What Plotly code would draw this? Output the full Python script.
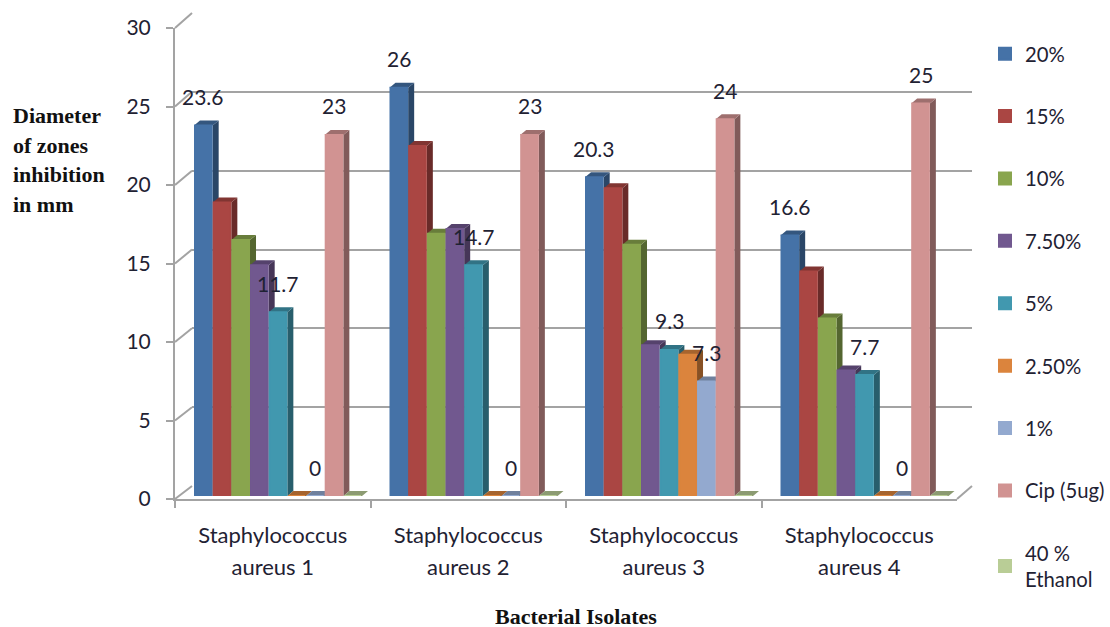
import plotly.graph_objects as go

# Isolates along the category axis
categories = ["Staphylococcus aureus 1", "Staphylococcus aureus 2",
              "Staphylococcus aureus 3", "Staphylococcus aureus 4"]
y_ticks = [0, 5, 10, 15, 20, 25, 30]

# Zone diameters (mm) per concentration, one value per isolate
series_names = ["20%", "15%", "10%", "7.50%", "5%", "2.50%", "1%", "Cip (5ug)", "40 %<br>Ethanol"]
pct_20 = [23.6, 26, 20.3, 16.6]
pct_15 = [18.7, 22.3, 19.6, 14.3]
pct_10 = [16.3, 16.7, 16, 11.3]
pct_7_5 = [14.7, 17, 9.6, 8]
pct_5 = [11.7, 14.7, 9.3, 7.7]
pct_2_5 = [0, 0, 9, 0]
pct_1 = [0, 0, 7.3, 0]
cip = [23, 23, 24, 25]
ethanol = [0, 0, 0, 0]
series_values = [pct_20, pct_15, pct_10, pct_7_5, pct_5, pct_2_5, pct_1, cip, ethanol]
colors = ["#4572A7", "#AA4643", "#89A54E", "#71588F", "#4198AF",
          "#DB843D", "#93A9CF", "#D19392", "#B9CD96"]

# Which bars carry a value label: (series index, isolate index)
labelled = [(0, 0), (4, 0), (6, 0), (7, 0),
            (0, 1), (4, 1), (6, 1), (7, 1),
            (0, 2), (4, 2), (6, 2), (7, 2),
            (0, 3), (4, 3), (6, 3), (7, 3)]

W, H = 1110, 627
GREY = "#a3a3a3"
TEXT = "#1f2233"
FONT = "Lato"
SERIF = "Liberation Serif"

# Pixel frame of the front plane, the back wall and the bar plane
FRONT_X = (175, 957)
FRONT_Y = (28, 499)
BACK_X = (192, 972)
BACK_Y = (13, 486)
BAR_Y = (25, 496)


def xdom(px):
    return [px[0] / W, px[1] / W]


def ydom(px):
    return [1 - px[1] / H, 1 - px[0] / H]


def shade(hex_color, k):
    r, g, b = (int(hex_color[i:i + 2], 16) for i in (1, 3, 5))
    return f"rgb({int(r * k)},{int(g * k)},{int(b * k)})"


def sized(text, px):
    # Outer font size sets the line spacing, inner span sets the glyph size
    return "<br>".join(f'<span style="font-size:{px}px">{p}</span>' for p in text.split("<br>"))


PX = 1 / 195.5
bar_w = 18.67 * PX
stroke = 2
bar_start = -0.5 + 19 * PX
depth_x = 6 * PX
depth_y = 5 / 15.7

fig = go.Figure()
shapes = []

# Empty traces keep the back wall and the value axis subplots on the page
fig.add_trace(go.Scatter(x=[0], y=[0], xaxis="x", yaxis="y", mode="none",
                         showlegend=False, hoverinfo="skip"))
fig.add_trace(go.Scatter(x=categories, y=[0] * len(categories), xaxis="x2", yaxis="y3", mode="none",
                         showlegend=False, hoverinfo="skip"))

# Wall diagonals joining the front axis to the back wall, plus the floor
for t in y_ticks:
    f = t / 30
    y_front = FRONT_Y[1] - f * (FRONT_Y[1] - FRONT_Y[0])
    y_back = BACK_Y[1] - f * (BACK_Y[1] - BACK_Y[0])
    shapes.append(dict(type="line", layer="below", xref="paper", yref="paper",
                       x0=FRONT_X[0] / W, y0=1 - y_front / H,
                       x1=BACK_X[0] / W, y1=1 - y_back / H,
                       line=dict(color=GREY, width=2)))
shapes.append(dict(type="line", layer="below", xref="paper", yref="paper",
                   x0=FRONT_X[1] / W, y0=1 - FRONT_Y[1] / H,
                   x1=BACK_X[1] / W, y1=1 - BACK_Y[1] / H,
                   line=dict(color=GREY, width=2)))

# Bars: the front face is a real bar, side and top faces sit behind it
for s, (name, vals, col) in enumerate(zip(series_names, series_values, colors)):
    left = bar_start + s * bar_w
    for g, v in enumerate(vals):
        l, r = g + left, g + left + bar_w
        shapes.append(dict(type="path", layer="between", xref="x2", yref="y2", line=dict(width=0),
                           fillcolor=shade(col, 0.62),
                           path=f"M{r},0 L{r + depth_x},{depth_y} L{r + depth_x},{v + depth_y} L{r},{v} Z"))
        shapes.append(dict(type="path", layer="between", xref="x2", yref="y2", line=dict(width=0),
                           fillcolor=shade(col, 0.76),
                           path=f"M{l},{v} L{l + depth_x},{v + depth_y} L{r + depth_x},{v + depth_y} L{r},{v} Z"))
    fig.add_trace(go.Bar(x=categories, y=vals, name=name, xaxis="x2", yaxis="y2",
                         width=bar_w - stroke * PX, offset=left + stroke / 2 * PX, legendgroup=name,
                         marker=dict(color=col, line=dict(width=stroke, color=col)), hoverinfo="skip"))

# Value labels float above the labelled bars
annotations = []
for s, g in labelled:
    v = series_values[s][g]
    annotations.append(dict(xref="x2", yref="y2", x=g + bar_start + (s + 0.5) * bar_w, y=v,
                            text=f"{v}", showarrow=False, yshift=29, yanchor="middle",
                            font=dict(family=FONT, size=21, color=TEXT)))

# Axis titles
for line, y in zip(["Diameter", "of zones", "inhibition", "in mm"], [115, 145, 175, 205]):
    annotations.append(dict(xref="paper", yref="paper", x=11 / W, y=1 - y / H, text=f"<b>{line}</b>",
                            showarrow=False, xanchor="left", yanchor="middle",
                            font=dict(family=SERIF, size=22, color="#111111")))
annotations.append(dict(xref="paper", yref="paper", x=576 / W, y=1 - 616 / H, height=22,
                        text="<b>Bacterial Isolates</b>", showarrow=False, yanchor="middle",
                        font=dict(family=SERIF, size=22, color="#111111")))

tick_labels = [sized(c.replace("coccus ", "coccus<br>"), 22) for c in categories]

fig.update_layout(
    template="none",
    width=W, height=H, autosize=False, margin=dict(l=0, r=0, t=0, b=0),
    paper_bgcolor="white", plot_bgcolor="rgba(0,0,0,0)", barmode="overlay",
    font=dict(family=FONT, color=TEXT),
    shapes=shapes, annotations=annotations,
    legend=dict(x=985 / W, y=1 - 34 / H, xanchor="left", yanchor="top",
                font=dict(family=FONT, size=20.3, color=TEXT),
                tracegroupgap=33, traceorder="grouped", bgcolor="rgba(0,0,0,0)"),
    # back wall with its gridlines
    xaxis=dict(domain=xdom(BACK_X), range=[0, 1], visible=False, anchor="y", automargin=False),
    yaxis=dict(domain=ydom(BACK_Y), range=[0, 30], anchor="x", showgrid=True, gridcolor=GREY,
               gridwidth=2, tickvals=y_ticks, showticklabels=False, ticks="", zeroline=False, showline=False,
               automargin=False),
    # category axis along the front of the floor
    xaxis2=dict(domain=xdom(FRONT_X), anchor="y3", type="category", categoryorder="array",
                categoryarray=categories, range=[-0.5, 3.5], tickson="boundaries", ticks="outside",
                ticklen=7, tickwidth=2, tickcolor=GREY, showline=True, linecolor=GREY, linewidth=2,
                showgrid=False, zeroline=False, tickmode="array", tickvals=categories, ticktext=tick_labels,
                tickangle=0, tickfont=dict(family=FONT, size=24.6, color=TEXT), ticklabelstandoff=12,
                automargin=False),
    # bar plane, set slightly in from the front of the floor
    yaxis2=dict(domain=ydom(BAR_Y), range=[0, 30], anchor="x2", visible=False, showgrid=False, automargin=False),
    # value axis on the front plane
    yaxis3=dict(domain=ydom(FRONT_Y), range=[0, 30], anchor="x2", tickvals=y_ticks, ticks="outside",
                ticklen=7, tickwidth=2, tickcolor=GREY, showline=True, linecolor=GREY, linewidth=2,
                showgrid=False, zeroline=False, tickfont=dict(family=FONT, size=21, color=TEXT),
                ticklabelstandoff=11, automargin=False),
)

fig.write_html("out.html", config=dict(displayModeBar=False))
